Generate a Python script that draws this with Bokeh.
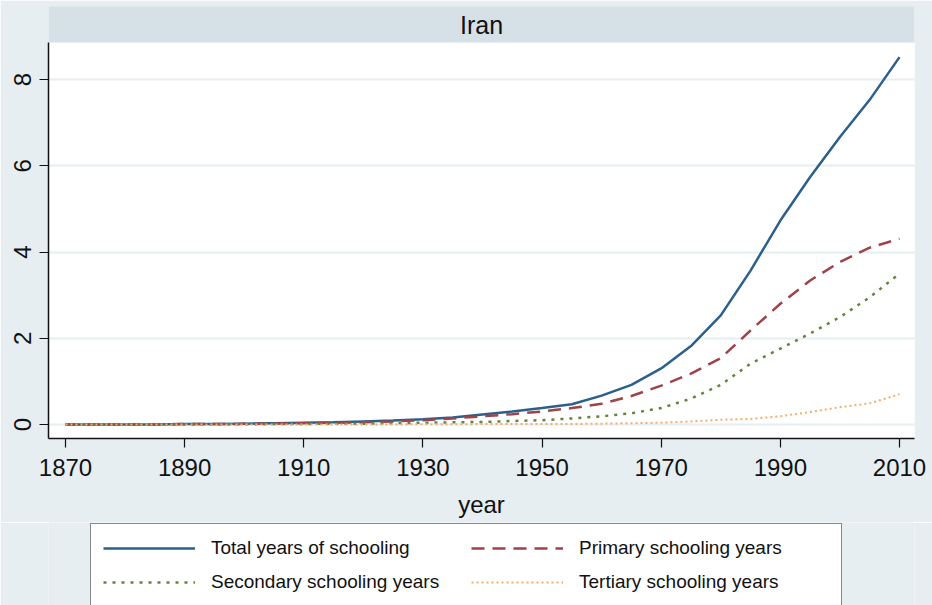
from bokeh.plotting import figure
from bokeh.models import Legend, LegendItem, ColumnDataSource, FixedTicker, Title
from bokeh.layouts import column
from bokeh.embed import file_html
from bokeh.resources import INLINE

years = [1870, 1875, 1880, 1885, 1890, 1895, 1900, 1905, 1910, 1915, 1920, 1925, 1930, 1935,
         1940, 1945, 1950, 1955, 1960, 1965, 1970, 1975, 1980, 1985, 1990, 1995, 2000, 2005, 2010]
total = [0.00, 0.00, 0.00, 0.00, 0.01, 0.01, 0.02, 0.03, 0.04, 0.05, 0.07, 0.09, 0.12, 0.16,
         0.23, 0.30, 0.38, 0.47, 0.67, 0.92, 1.30, 1.82, 2.53, 3.57, 4.73, 5.74, 6.67, 7.53, 8.52]
primary = [0.00, 0.00, 0.00, 0.00, 0.01, 0.01, 0.015, 0.02, 0.03, 0.04, 0.05, 0.07, 0.10, 0.14,
           0.19, 0.24, 0.30, 0.38, 0.48, 0.66, 0.90, 1.18, 1.54, 2.18, 2.80, 3.34, 3.77, 4.10, 4.31]
secondary = [0.00, 0.00, 0.00, 0.00, 0.00, 0.00, 0.005, 0.01, 0.01, 0.02, 0.02, 0.03, 0.04, 0.05,
             0.06, 0.08, 0.10, 0.14, 0.19, 0.26, 0.38, 0.60, 0.92, 1.41, 1.76, 2.11, 2.49, 2.95, 3.50]
tertiary = [0.00, 0.00, 0.00, 0.00, 0.00, 0.00, 0.00, 0.00, 0.00, 0.00, 0.00, 0.00, 0.005, 0.005,
            0.01, 0.01, 0.01, 0.01, 0.02, 0.03, 0.04, 0.07, 0.11, 0.13, 0.19, 0.29, 0.40, 0.49, 0.70]
x_ticks = [1870, 1890, 1910, 1930, 1950, 1970, 1990, 2010]
y_ticks = [0, 2, 4, 6, 8]
panel_title = "Iran"
x_title = "year"
labels = ["Total years of schooling", "Primary schooling years",
          "Secondary schooling years", "Tertiary schooling years"]

FONT = "Liberation Sans"
BG = "#e6eef1"
COLORS = ["#2b5f8c", "#9e424c", "#65843a", "#f5ad68"]
WIDTHS = [2.5, 2.5, 2.5, 2]
DASHES = ["solid", "13 8", "3 6", "2 3"]
COLS = ["total", "primary", "secondary", "tertiary"]

src = ColumnDataSource(dict(year=years, total=total, primary=primary,
                            secondary=secondary, tertiary=tertiary))

# ---- main panel ----
p = figure(frame_width=866, frame_height=396,
           x_range=(1867.15, 2012.52), y_range=(-0.325, 8.86),
           output_backend="svg", toolbar_location=None, title=None,
           min_border_left=48, min_border_right=18, min_border_top=42, min_border_bottom=84)
p.background_fill_color = "white"
p.border_fill_color = BG
p.outline_line_color = None

t = Title(text=panel_title, align="center", text_font=FONT, text_font_size="25px",
          text_font_style="normal", text_color="#111111",
          background_fill_color="#d5e1e7", padding=(411, 4), standoff=0)
p.add_layout(t, "above")

for col, c, w, d in zip(COLS, COLORS, WIDTHS, DASHES):
    p.line("year", col, source=src, line_color=c, line_width=w, line_dash=d)

p.xgrid.visible = False
p.ygrid.grid_line_color = "#e6eef1"
p.ygrid.grid_line_width = 2
p.ygrid.ticker = FixedTicker(ticks=y_ticks)

for ax in (p.xaxis[0], p.yaxis[0]):
    ax.axis_line_color = "#111111"
    ax.axis_line_width = 1.5
    ax.major_tick_line_color = "#111111"
    ax.major_tick_line_width = 1.2
    ax.major_tick_out = 9
    ax.major_tick_in = 0
    ax.minor_tick_line_color = None
    ax.major_label_text_font = FONT
    ax.major_label_text_font_size = "24px"
    ax.major_label_text_color = "#111111"

p.xaxis.ticker = FixedTicker(ticks=x_ticks)
p.yaxis.ticker = FixedTicker(ticks=y_ticks)
p.yaxis.major_label_orientation = "vertical"
p.yaxis.major_label_standoff = 8
p.xaxis.major_label_standoff = 11
p.xaxis.axis_label = x_title
p.xaxis.axis_label_text_font = FONT
p.xaxis.axis_label_text_font_size = "24px"
p.xaxis.axis_label_text_font_style = "normal"
p.xaxis.axis_label_text_color = "#111111"
p.xaxis.axis_label_standoff = 12

# ---- legend strip ----
p2 = figure(width=932, height=83, x_range=(0, 1), y_range=(0, 1),
            x_axis_location=None, y_axis_location=None,
            output_backend="svg", toolbar_location=None, title=None,
            min_border_left=0, min_border_right=0, min_border_top=0, min_border_bottom=0)
p2.background_fill_color = BG
p2.border_fill_color = BG
p2.outline_line_color = None
p2.grid.visible = False

lr = []
for col, c, w, d in zip(COLS, COLORS, WIDTHS, DASHES):
    lr.append(p2.line("year", col, source=src, line_color=c, line_width=w, line_dash=d))

legend = Legend(items=[LegendItem(label=lab, renderers=[r]) for lab, r in zip(labels, lr)],
                orientation="horizontal", ncols=2, location=(42, -2))
legend.label_text_font = FONT
legend.label_text_font_size = "19px"
legend.label_text_color = "#111111"
legend.glyph_width = 92
legend.glyph_height = 24
legend.label_standoff = 16
legend.label_width = 250
legend.padding = 12
legend.spacing = 10
legend.margin = 0
legend.border_line_color = "#111111"
legend.border_line_width = 1
legend.background_fill_color = "white"
legend.background_fill_alpha = 1.0
p2.add_layout(legend, "center")

layout = column(p, p2, spacing=0)

open("out.html", "w").write(file_html(layout, INLINE))
